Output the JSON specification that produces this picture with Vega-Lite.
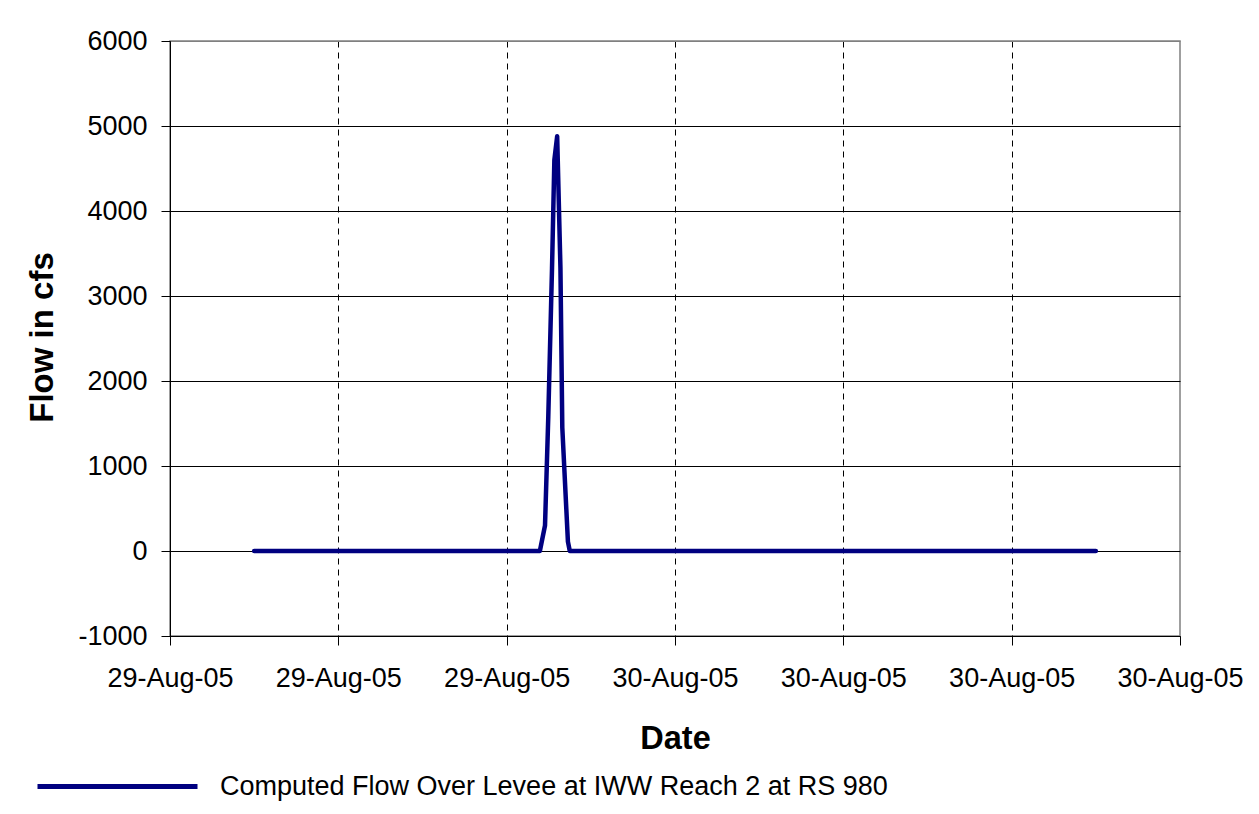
{
  "$schema": "https://vega.github.io/schema/vega-lite/v6.json",
  "autosize": {"type": "none"},
  "width": 1010,
  "height": 595,
  "padding": {"left": 170, "top": 41, "right": 79, "bottom": 178},
  "background": "#ffffff",
  "config": {
    "font": "Liberation Sans",
    "view": {"stroke": "#808080", "strokeWidth": 1.5},
    "axis": {"labelFont": "Liberation Sans", "titleFont": "Liberation Sans", "labelColor": "#000", "titleColor": "#000"}
  },
  "data": {
    "values": [
      {"t": "2005-08-29T09:00:00", "flow": 0},
      {"t": "2005-08-29T10:00:00", "flow": 0},
      {"t": "2005-08-29T11:00:00", "flow": 0},
      {"t": "2005-08-29T12:00:00", "flow": 0},
      {"t": "2005-08-29T13:00:00", "flow": 0},
      {"t": "2005-08-29T14:00:00", "flow": 0},
      {"t": "2005-08-29T15:00:00", "flow": 0},
      {"t": "2005-08-29T16:00:00", "flow": 0},
      {"t": "2005-08-29T17:00:00", "flow": 0},
      {"t": "2005-08-29T18:00:00", "flow": 0},
      {"t": "2005-08-29T19:00:00", "flow": 0},
      {"t": "2005-08-29T19:11:00", "flow": 0},
      {"t": "2005-08-29T19:22:00", "flow": 300},
      {"t": "2005-08-29T19:29:00", "flow": 1580},
      {"t": "2005-08-29T19:37:00", "flow": 3330},
      {"t": "2005-08-29T19:42:00", "flow": 4600},
      {"t": "2005-08-29T19:48:00", "flow": 4880},
      {"t": "2005-08-29T19:55:00", "flow": 3330},
      {"t": "2005-08-29T19:59:00", "flow": 1450},
      {"t": "2005-08-29T20:11:00", "flow": 110},
      {"t": "2005-08-29T20:15:00", "flow": 0},
      {"t": "2005-08-29T21:00:00", "flow": 0},
      {"t": "2005-08-29T22:00:00", "flow": 0},
      {"t": "2005-08-29T23:00:00", "flow": 0},
      {"t": "2005-08-30T00:00:00", "flow": 0},
      {"t": "2005-08-30T01:00:00", "flow": 0},
      {"t": "2005-08-30T02:00:00", "flow": 0},
      {"t": "2005-08-30T03:00:00", "flow": 0},
      {"t": "2005-08-30T04:00:00", "flow": 0},
      {"t": "2005-08-30T05:00:00", "flow": 0},
      {"t": "2005-08-30T06:00:00", "flow": 0},
      {"t": "2005-08-30T07:00:00", "flow": 0},
      {"t": "2005-08-30T08:00:00", "flow": 0},
      {"t": "2005-08-30T09:00:00", "flow": 0},
      {"t": "2005-08-30T10:00:00", "flow": 0},
      {"t": "2005-08-30T11:00:00", "flow": 0},
      {"t": "2005-08-30T12:00:00", "flow": 0},
      {"t": "2005-08-30T13:00:00", "flow": 0},
      {"t": "2005-08-30T14:00:00", "flow": 0},
      {"t": "2005-08-30T15:00:00", "flow": 0}
    ]
  },
  "transform": [
    {"calculate": "'Computed Flow Over Levee at IWW Reach 2 at RS 980'", "as": "series"}
  ],
  "mark": {"type": "line", "strokeWidth": 4.5, "strokeCap": "round", "strokeJoin": "round", "clip": true},
  "encoding": {
    "x": {
      "field": "t",
      "type": "temporal",
      "scale": {
        "domain": [
          {"year": 2005, "month": 8, "date": 29, "hours": 6},
          {"year": 2005, "month": 8, "date": 30, "hours": 18}
        ],
        "nice": false
      },
      "axis": {
        "title": "Date",
        "values": [
          {"year": 2005, "month": 8, "date": 29, "hours": 6},
          {"year": 2005, "month": 8, "date": 29, "hours": 12},
          {"year": 2005, "month": 8, "date": 29, "hours": 18},
          {"year": 2005, "month": 8, "date": 30, "hours": 0},
          {"year": 2005, "month": 8, "date": 30, "hours": 6},
          {"year": 2005, "month": 8, "date": 30, "hours": 12},
          {"year": 2005, "month": 8, "date": 30, "hours": 18}
        ],
        "format": "%d-%b-%y",
        "labelFontSize": 27,
        "labelPadding": 20,
        "labelBaseline": "top",
        "labelFlush": false,
        "labelOverlap": false,
        "tickSize": 9,
        "tickColor": "#000",
        "domainColor": "#000",
        "domainWidth": 1,
        "grid": true,
        "gridColor": "#000",
        "gridDash": [6, 5],
        "gridWidth": 1,
        "gridOpacity": {
          "condition": {"test": "date(datum.value) == 30 && hours(datum.value) == 18", "value": 0},
          "value": 1
        },
        "titleFontSize": 32.5,
        "titleFontWeight": "bold",
        "titleBaseline": "alphabetic",
        "titleY": 112
      }
    },
    "y": {
      "field": "flow",
      "type": "quantitative",
      "scale": {"domain": [-1000, 6000], "nice": false, "zero": false},
      "axis": {
        "title": "Flow in cfs",
        "values": [-1000, 0, 1000, 2000, 3000, 4000, 5000, 6000],
        "labelExpr": "'' + datum.value",
        "labelFontSize": 27,
        "labelPadding": 14,
        "labelFlush": false,
        "labelOverlap": false,
        "tickSize": 9,
        "tickColor": "#000",
        "domainColor": "#000",
        "domainWidth": 1,
        "grid": true,
        "gridColor": {
          "condition": {"test": "datum.value == 6000", "value": "#808080"},
          "value": "#000"
        },
        "gridWidth": 1,
        "titleFontSize": 33,
        "titleFontWeight": "bold",
        "titleBaseline": "alphabetic",
        "titleX": -118,
        "titleY": 296
      }
    },
    "color": {
      "field": "series",
      "type": "nominal",
      "scale": {"range": ["#000080"]},
      "legend": {
        "title": null,
        "orient": "none",
        "legendX": -66,
        "legendY": 732,
        "padding": 0,
        "symbolType": "M-8,0H8",
        "symbolSize": 400,
        "symbolStrokeWidth": 5,
        "symbolStrokeColor": "#000080",
        "labelFont": "Liberation Sans",
        "labelFontSize": 27,
        "labelColor": "#000",
        "labelOffset": 89,
        "labelLimit": 0
      }
    }
  }
}
